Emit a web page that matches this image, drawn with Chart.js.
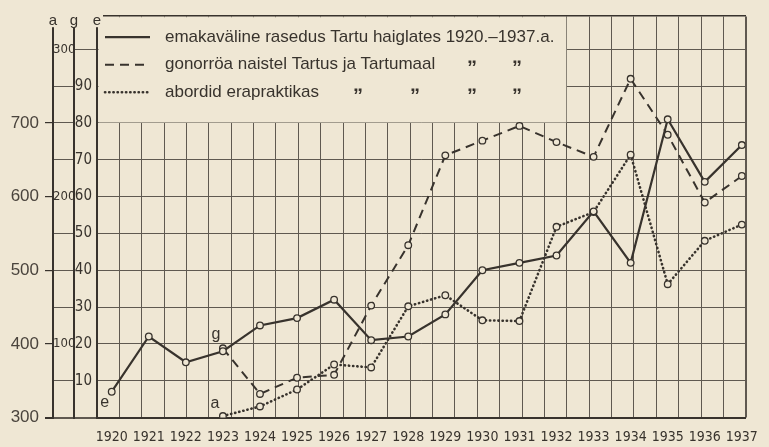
<!DOCTYPE html>
<html>
<head>
<meta charset="utf-8">
<script src="https://cdn.jsdelivr.net/npm/chart.js@4.4.1/dist/chart.umd.min.js"></script>
<style>
  html, body { margin: 0; padding: 0; background: #efe7d4; }
  #wrap { position: relative; width: 769px; height: 447px; }
</style>
</head>
<body>
<div id="wrap"><canvas id="kover"></canvas></div>
<script>
// ----- Data -----
const years = [1920, 1921, 1922, 1923, 1924, 1925, 1926, 1927, 1928,
               1929, 1930, 1931, 1932, 1933, 1934, 1935, 1936, 1937];
// e-scale: emakaväline rasedus Tartu haiglates
const ectopic = [7, 22, 15, 18, 25, 27, 32, 21, 22, 28, 40, 42, 44, 56, 42, 81, 64, 74];
// g-scale: gonorröa naistel Tartus ja Tartumaal
const gonorrhoea = [null, null, null, 97, 66, 77, 79, 126, 167, 228, 238, 248, 237, 227, 280, 242, 196, 214];
// a-scale: abordid erapraktikas
const abortions = [null, null, null, 302, 315, 338, 372, 368, 451, 466, 432, 431, 559, 579, 657, 481, 540, 562];

const aTickLabels = [300, 400, 500, 600, 700];
const gTickLabels = [100, 200, 300];
const eTickLabels = [10, 20, 30, 40, 50, 60, 70, 80, 90];
const seriesNames = [
  "emakaväline rasedus Tartu haiglates 1920.–1937.a.",
  "gonorröa naistel Tartus ja Tartumaal",
  "abordid erapraktikas"
];

// ----- Look -----
const ink = "#38332d";
const gridInk = "#5f5950";
const paper = "#efe7d4";
const narrow = "'DejaVu Sans Condensed', 'Liberation Sans', sans-serif";

// e units shown on the chart (0..109); a = 300 + 5e, g = 50 + 2.5e
const eTop = 109;

const toPoints = (vals) => years.map((x, i) => ({ x, y: vals[i] })).filter(p => p.y !== null);
const tickVal = (ctx) => (ctx.tick ? ctx.tick.value : null);

// legend box, ditto marks and the little axis letters
const paperPlugin = {
  id: "paper",
  beforeDatasetsDraw(chart) {
    const { ctx, chartArea: area, scales } = chart;
    const boxRight = scales.xg.getPixelForValue(21);
    const boxBottom = scales.e.getPixelForValue(80);
    ctx.save();
    ctx.fillStyle = paper;
    ctx.fillRect(area.left + 1.5, area.top + 1, boxRight - area.left - 2, boxBottom - area.top - 1.5);

    const dittos = [[], [375, 420], [261, 318, 375, 420]];
    ctx.textBaseline = "middle";
    chart.data.datasets.forEach((ds, i) => {
      const y = area.top + 21 + i * 27.5;
      ctx.beginPath();
      ctx.setLineDash(ds.borderDash || []);
      ctx.lineWidth = ds.borderWidth;
      ctx.lineCap = ds.borderCapStyle || "butt";
      ctx.strokeStyle = ds.borderColor;
      ctx.moveTo(area.left + 8, y);
      ctx.lineTo(area.left + 53, y);
      ctx.stroke();
      ctx.fillStyle = ink;
      ctx.textAlign = "left";
      ctx.font = "17px 'Liberation Sans', sans-serif";
      ctx.fillText(ds.label, area.left + 68, y);
      ctx.textAlign = "center";
      ctx.font = "bold 20px 'Liberation Sans', sans-serif";
      dittos[i].forEach(dx => ctx.fillText("„", area.left + dx, y - 7));
    });

    // axis letters on top of the three left axes
    ctx.setLineDash([]);
    ctx.font = "15px 'Liberation Sans', sans-serif";
    ctx.textBaseline = "alphabetic";
    [["a", "a"], ["g", "g"], ["e", "e"]].forEach(([id, letter]) => {
      const x = scales[id].right;
      ctx.fillStyle = paper;
      ctx.fillRect(x - 6, area.top - 4, 12, 15);
      ctx.fillStyle = ink;
      ctx.fillText(letter, x, area.top + 9);
    });

    // series letters at the first point of each curve
    ctx.font = "16px 'Liberation Sans', sans-serif";
    const firstOf = (vals) => vals.findIndex(v => v !== null);
    const mark = (letter, vals, axis, dx, dy) => {
      const i = firstOf(vals);
      ctx.fillText(letter, scales.x.getPixelForValue(years[i]) + dx, scales[axis].getPixelForValue(vals[i]) + dy);
    };
    mark("e", ectopic, "e", -7, 15);
    mark("g", gonorrhoea, "g", -7, -9);
    mark("a", abortions, "a", -8, -8);
    ctx.restore();
  }
};

const pointStyle = {
  pointRadius: 3.3,
  pointBorderWidth: 1.3,
  pointBackgroundColor: paper,
  pointBorderColor: ink,
  borderColor: ink,
  tension: 0
};

new Chart(document.getElementById("kover"), {
  type: "line",
  data: {
    datasets: [
      { label: seriesNames[0], data: toPoints(ectopic), yAxisID: "e", borderWidth: 2.2, ...pointStyle },
      { label: seriesNames[1], data: toPoints(gonorrhoea), yAxisID: "g", borderWidth: 2, borderDash: [9, 6], ...pointStyle },
      { label: seriesNames[2], data: toPoints(abortions), yAxisID: "a", borderWidth: 2.6,
        borderDash: [0.3, 3.9], borderCapStyle: "round", ...pointStyle }
    ]
  },
  options: {
    responsive: true,
    maintainAspectRatio: false,
    animation: false,
    events: [],
    layout: { padding: { top: 12, right: 11, bottom: 0, left: 0 } },
    plugins: { legend: { display: false }, tooltip: { enabled: false } },
    scales: {
      x: {
        type: "linear", position: "bottom", min: 1919.603, max: 1937.106,
        afterBuildTicks: s => { s.ticks = years.map(v => ({ value: v })); },
        afterFit: s => { s.height = 29.5; },
        grid: { display: false, drawTicks: false },
        border: { display: true, color: ink, width: 2 },
        ticks: { padding: 11, autoSkip: false, maxRotation: 0, color: ink,
                 font: { family: narrow, size: 14 }, callback: v => String(v) }
      },
      xg: {
        type: "linear", position: "top", min: 0, max: 29,
        afterBuildTicks: s => { const t = []; for (let v = 0; v <= 29; v++) t.push({ value: v }); s.ticks = t; },
        afterFit: s => { s.height = 0; },
        ticks: { display: false },
        grid: { drawTicks: false, color: gridInk, lineWidth: c => (tickVal(c) === 29 ? 2 : 1) },
        border: { display: true, color: ink, width: 1.5 }
      },
      a: {
        type: "linear", position: "left", weight: 3, min: 300, max: 300 + 5 * eTop,
        afterBuildTicks: s => { s.ticks = aTickLabels.map(v => ({ value: v })); },
        afterFit: s => { s.width = 53; },
        grid: { drawOnChartArea: false, tickLength: 8, color: ink,
                lineWidth: c => (tickVal(c) === 300 ? 2 : 1.2) },
        border: { color: ink, width: 2 },
        ticks: { padding: 6, color: "#4a443d", font: { family: "'Liberation Sans', sans-serif", size: 17 } }
      },
      g: {
        type: "linear", position: "left", weight: 2, min: 50, max: 50 + 2.5 * eTop,
        afterBuildTicks: s => { const t = []; for (let v = 50; v <= 300; v += 25) t.push({ value: v }); s.ticks = t; },
        afterFit: s => { s.width = 21; },
        grid: { drawOnChartArea: false, tickLength: 21,
                color: c => (gTickLabels.includes(tickVal(c)) ? "rgba(0,0,0,0)" : gridInk),
                lineWidth: c => (tickVal(c) === 50 ? 2 : 1) },
        border: { color: ink, width: 2 },
        ticks: { crossAlign: "far", color: ink, font: { family: narrow, size: 13 },
                 callback: v => (gTickLabels.includes(v) ? String(v) : "") }
      },
      e: {
        type: "linear", position: "left", weight: 1, min: 0, max: eTop,
        afterBuildTicks: s => { const t = []; for (let v = 0; v <= 100; v += 10) t.push({ value: v }); s.ticks = t; },
        afterFit: s => { s.width = 23; },
        grid: { color: gridInk, tickLength: 23,
                lineWidth: c => (tickVal(c) === 0 ? 2 : 1),
                tickColor: c => ([0, 100].includes(tickVal(c)) ? gridInk : "rgba(0,0,0,0)") },
        border: { color: ink, width: 2 },
        ticks: { padding: -18, color: ink, font: { family: narrow, size: 15 },
                 callback: v => (eTickLabels.includes(v) ? String(v) : "") }
      }
    }
  },
  plugins: [paperPlugin]
});
</script>
</body>
</html>
